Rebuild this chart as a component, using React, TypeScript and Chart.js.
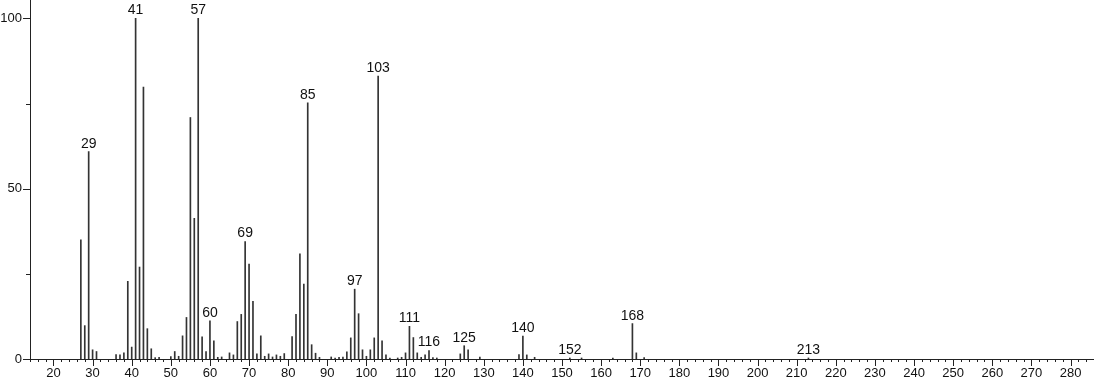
import { useEffect, useRef } from "react";
import { Chart, registerables } from "chart.js";

Chart.register(...registerables);

// m/z values and relative intensities (%)
const mz = [
  27, 28, 29, 30, 31, 36, 37, 38, 39, 40, 41, 42, 43, 44, 45, 46, 47, 50, 51, 52,
  53, 54, 55, 56, 57, 58, 59, 60, 61, 62, 63, 65, 66, 67, 68, 69, 70, 71, 72, 73,
  74, 75, 76, 77, 78, 79, 81, 82, 83, 84, 85, 86, 87, 88, 91, 92, 93, 94, 95, 96,
  97, 98, 99, 100, 101, 102, 103, 104, 105, 106, 108, 109, 110, 111, 112, 113, 114, 115, 116, 117,
  118, 124, 125, 126, 129, 139, 140, 141, 143, 152, 155, 163, 168, 169, 171, 213,
];
const intensity = [
  35.0, 9.8, 60.9, 2.7, 2.2, 1.3, 1.2, 1.8, 22.8, 3.5, 100, 27.0, 79.8, 8.9, 3.0, 0.4, 0.5, 0.7, 2.2, 0.8,
  6.8, 12.2, 70.9, 41.3, 100, 6.5, 2.2, 11.2, 5.3, 0.5, 0.6, 1.8, 1.2, 11.0, 13.1, 34.5, 27.9, 16.9, 1.5, 6.8,
  0.8, 1.5, 0.6, 1.2, 0.8, 1.6, 6.6, 13.1, 30.9, 22.0, 75.2, 4.2, 1.7, 0.5, 0.6, 0.3, 0.5, 0.6, 2.1, 6.2,
  20.5, 13.3, 2.7, 0.8, 2.7, 6.2, 83.1, 5.3, 1.2, 0.3, 0.3, 0.5, 1.8, 9.6, 6.3, 1.8, 0.5, 1.2, 2.5, 0.4,
  0.3, 1.5, 3.9, 2.7, 0.6, 1.3, 6.7, 1.2, 0.5, 0.3, 0.3, 0.3, 10.4, 1.8, 0.4, 0.3,
];
const labeledPeaks = [29, 41, 57, 60, 69, 85, 97, 103, 111, 116, 125, 140, 152, 168, 213];

const xMin = 14;
const xMax = 286;
const yMin = 0;
const yMax = 105.4;
const xTickLabels = [20, 30, 40, 50, 60, 70, 80, 90, 100, 110, 120, 130, 140, 150, 160, 170, 180, 190, 200, 210, 220, 230, 240, 250, 260, 270, 280];
const xMinorStep = 2;
const yTickLabels = [0, 50, 100];
const yMinorTicks = [25, 75];

const FONT = "'Liberation Sans', Arial, Helvetica, sans-serif";
const INK = "#222";

export default function App() {
  const ref = useRef<HTMLCanvasElement | null>(null);

  useEffect(() => {
    if (!ref.current) return;

    const xTickValues: number[] = [];
    for (let v = xMin; v <= xMax; v += xMinorStep) xTickValues.push(v);
    const yTickValues = [...yTickLabels, ...yMinorTicks].sort((a, b) => a - b);

    const tickMarks = {
      id: "tickMarks",
      afterDraw(chart: any) {
        const ctx = chart.ctx;
        const xs = chart.scales.x;
        const ys = chart.scales.y;
        ctx.save();
        ctx.strokeStyle = INK;
        ctx.lineWidth = 1;
        ctx.beginPath();
        for (const v of xTickValues) {
          const px = Math.round(xs.getPixelForValue(v)) + 0.5;
          const len = xTickLabels.includes(v) ? 7 : 3;
          ctx.moveTo(px, ys.bottom);
          ctx.lineTo(px, ys.bottom + len);
        }
        for (const v of yTickValues) {
          const py = Math.round(ys.getPixelForValue(v)) + 0.5;
          const len = yTickLabels.includes(v) ? 7 : 4;
          ctx.moveTo(xs.left - len, py);
          ctx.lineTo(xs.left, py);
        }
        ctx.stroke();
        ctx.restore();
      },
    };

    const peakLabels = {
      id: "peakLabels",
      afterDatasetsDraw(chart: any) {
        const ctx = chart.ctx;
        const meta = chart.getDatasetMeta(0);
        ctx.save();
        ctx.fillStyle = "#111";
        ctx.font = `14px ${FONT}`;
        ctx.textAlign = "center";
        ctx.textBaseline = "alphabetic";
        for (const m of labeledPeaks) {
          const i = mz.indexOf(m);
          if (i < 0) continue;
          const el = meta.data[i];
          ctx.fillText(String(m), el.x, el.y - 4);
        }
        ctx.restore();
      },
    };

    const chart = new Chart(ref.current, {
      type: "bar",
      data: {
        datasets: [
          {
            data: mz.map((m, i) => ({ x: m, y: intensity[i] })),
            backgroundColor: "#333",
            borderWidth: 0,
            barThickness: 1,
          },
        ],
      },
      options: {
        animation: false,
        responsive: false,
        devicePixelRatio: 1,
        layout: { padding: 0, autoPadding: false },
        plugins: { legend: { display: false }, tooltip: { enabled: false } },
        scales: {
          x: {
            type: "linear",
            min: xMin,
            max: xMax,
            offset: false,
            grid: { display: false, drawTicks: false },
            border: { display: true, color: INK, width: 1 },
            afterBuildTicks: (s: any) => {
              s.ticks = xTickValues.map((v) => ({ value: v }));
            },
            afterFit: (s: any) => {
              s.height = 25;
              s.paddingLeft = 0;
              s.paddingRight = 0;
            },
            ticks: {
              autoSkip: false,
              maxRotation: 0,
              minRotation: 0,
              padding: 7,
              color: "#111",
              font: { family: FONT, size: 13 },
              callback: (v: any) => (xTickLabels.includes(Number(v)) ? String(v) : ""),
            },
          },
          y: {
            type: "linear",
            min: yMin,
            max: yMax,
            grid: { display: false, drawTicks: false },
            border: { display: true, color: INK, width: 1 },
            afterBuildTicks: (s: any) => {
              s.ticks = yTickValues.map((v) => ({ value: v }));
            },
            afterFit: (s: any) => {
              s.width = 30;
              s.paddingTop = 0;
              s.paddingBottom = 0;
            },
            ticks: {
              autoSkip: false,
              padding: 8,
              color: "#111",
              font: { family: FONT, size: 13 },
              callback: (v: any) => (yTickLabels.includes(Number(v)) ? String(v) : ""),
            },
          },
        },
      },
      plugins: [tickMarks, peakLabels],
    });

    return () => chart.destroy();
  }, []);

  return (
    <div style={{ position: "fixed", left: 0, top: 0, width: 1094, height: 384, background: "#fff" }}>
      <canvas ref={ref} width={1094} height={384} style={{ display: "block" }} />
    </div>
  );
}
